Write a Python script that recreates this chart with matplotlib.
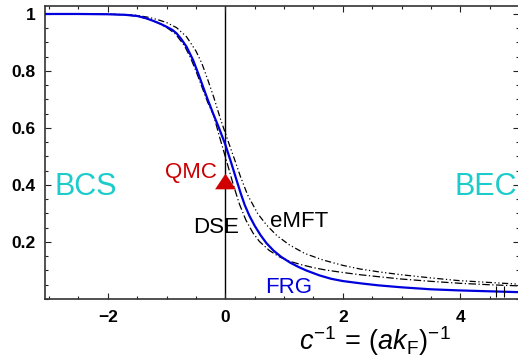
import numpy as np
import matplotlib
matplotlib.use("Agg")
from matplotlib import pyplot as plt
from matplotlib.ticker import MultipleLocator, FixedLocator

plt.rcParams['font.family'] = ['Liberation Sans', 'DejaVu Sans']
plt.rcParams['mathtext.fontset'] = 'custom'
plt.rcParams['mathtext.rm'] = 'Liberation Sans'
plt.rcParams['mathtext.it'] = 'Liberation Sans:italic'
plt.rcParams['mathtext.bf'] = 'Liberation Sans:bold'

# FRG (solid blue)
frg_x = [-3.07, -2.5, -2.0, -1.7, -1.5, -1.35, -1.23, -1.1, -1.0, -0.9, -0.83, -0.75,
         -0.66, -0.55, -0.45, -0.38, -0.3, -0.21, -0.1, 0.0, 0.1, 0.19, 0.26, 0.33,
         0.41, 0.5, 0.6, 0.7, 0.82, 0.95, 1.1, 1.25, 1.38, 1.6, 1.8, 2.0, 2.3, 2.6,
         3.0, 3.5, 4.0, 4.5, 5.0]
frg_y = [1.0, 1.0, 0.999, 0.997, 0.993, 0.985, 0.976, 0.965, 0.955, 0.944, 0.932, 0.912,
         0.885, 0.839, 0.785, 0.745, 0.70, 0.652, 0.596, 0.542, 0.478, 0.418, 0.372, 0.33,
         0.292, 0.257, 0.224, 0.196, 0.17, 0.148, 0.128, 0.112, 0.10, 0.083, 0.071, 0.063,
         0.055, 0.048, 0.041, 0.034, 0.030, 0.027, 0.024]

# DSE (dash-dot)
dse_x = [-3.07, -2.5, -2.0, -1.7, -1.5, -1.3, -1.15, -1.0, -0.85, -0.7, -0.6, -0.5, -0.4,
         -0.3, -0.2, -0.1, 0.02, 0.13, 0.24, 0.35, 0.47, 0.58, 0.75, 0.92, 1.1, 1.3, 1.5,
         1.7, 2.0, 2.3, 2.62, 3.0, 3.5, 4.0, 4.5, 5.0]
dse_y = [1.0, 1.0, 0.999, 0.997, 0.992, 0.982, 0.97, 0.953, 0.93, 0.89, 0.85, 0.80, 0.745,
         0.69, 0.645, 0.57, 0.485, 0.405, 0.333, 0.277, 0.232, 0.202, 0.17, 0.148, 0.132, 0.12,
         0.11, 0.102, 0.093, 0.085, 0.078, 0.07, 0.062, 0.055, 0.05, 0.046]

# eMFT (dash-dot-dot)
emft_x = [-3.07, -2.5, -2.0, -1.7, -1.5, -1.3, -1.15, -1.0, -0.83, -0.66, -0.5, -0.4, -0.3,
          -0.2, -0.08, 0.04, 0.16, 0.26, 0.38, 0.55, 0.7, 0.88, 1.09, 1.35, 1.66, 2.0, 2.3,
          2.62, 3.0, 3.5, 3.95, 4.5, 5.0]
emft_y = [1.0, 1.0, 0.999, 0.998, 0.995, 0.988, 0.98, 0.97, 0.952, 0.92, 0.87, 0.827, 0.77,
          0.71, 0.63, 0.558, 0.488, 0.428, 0.365, 0.30, 0.26, 0.222, 0.19, 0.16, 0.137, 0.118,
          0.105, 0.095, 0.085, 0.074, 0.065, 0.058, 0.052]

qmc_x = [0.0]
qmc_y = [0.413]

end_marks_x = [4.61, 4.74]

W, H = 518, 359
fig = plt.figure(figsize=(W / 100, H / 100), dpi=100)
ax = fig.add_axes([45 / W, (H - 299) / H, (519 - 45) / W, (299 - 6) / H])

ax.axvline(0, color='black', lw=1.0, zorder=1)
ax.plot(dse_x, dse_y, color='black', lw=0.9, ls=(0, (6, 2, 1, 2)), zorder=2)
ax.plot(emft_x, emft_y, color='black', lw=0.9, ls=(0, (5, 2, 1, 2, 1, 2)), zorder=2)
ax.plot(frg_x, frg_y, color='#0000dd', lw=1.6, zorder=3)
ax.vlines(end_marks_x, 0.006, 0.045, color='black', lw=0.8, zorder=3)

tri = [(-1, -0.75), (1, -0.75), (0, 0.75), (-1, -0.75)]
ax.plot(qmc_x, qmc_y, ls='none', marker=tri, ms=15, color='#d00000',
        markeredgewidth=0, zorder=4)

ax.set_xlim(-3.07, 5.0)
ax.set_ylim(0, 1.028)

ax.xaxis.set_major_locator(FixedLocator([-2, 0, 2, 4]))
ax.xaxis.set_minor_locator(MultipleLocator(0.5))
ax.yaxis.set_major_locator(FixedLocator([0.2, 0.4, 0.6, 0.8, 1.0]))
ax.yaxis.set_minor_locator(MultipleLocator(0.05))
ax.set_yticklabels(['0.2', '0.4', '0.6', '0.8', '1'])
ax.set_xticklabels(['\u22122', '0', '2', '4'])

ax.tick_params(which='both', direction='in', top=True, right=True, width=0.8, color='#222222')
ax.tick_params(which='major', length=4)
ax.tick_params(which='minor', length=2.5)
ax.tick_params(axis='x', pad=8)
ax.tick_params(axis='y', pad=6.5)
for lab in ax.get_xticklabels() + ax.get_yticklabels():
    lab.set_fontweight('bold')
    lab.set_fontsize(12.5)

for s in ax.spines.values():
    s.set_linewidth(1.2)
    s.set_color('#333333')

ax.text(-2.90, 0.365, 'BCS', color='#1ecbcb', fontsize=22, ha='left', va='baseline')
ax.text(3.90, 0.365, 'BEC', color='#1ecbcb', fontsize=22, ha='left', va='baseline')
ax.text(-0.14, 0.425, 'QMC', color='#cc0000', fontsize=16, ha='right', va='baseline')
ax.text(-0.55, 0.232, 'DSE', color='black', fontsize=16, ha='left', va='baseline')
ax.text(0.755, 0.253, 'eMFT', color='black', fontsize=16, ha='left', va='baseline')
ax.text(0.67, 0.021, 'FRG', color='#0000dd', fontsize=16, ha='left', va='baseline')

fig.text(375 / W, 1 - 341 / H, r'$c^{-1}\,=\,(ak_{\mathrm{F}})^{-1}$', fontsize=19.5,
         ha='center', va='center')

fig.savefig('out.png', dpi=100)
